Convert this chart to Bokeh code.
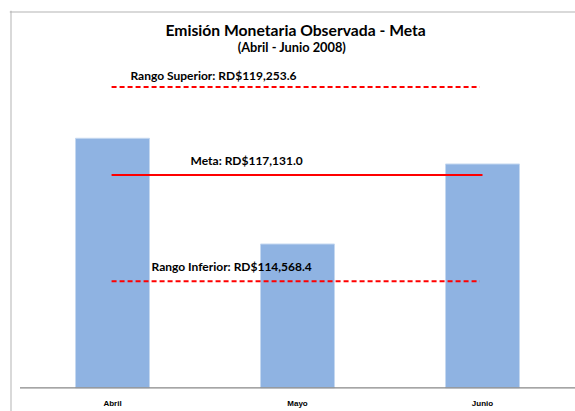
from bokeh.plotting import figure
from bokeh.models import ColumnDataSource, Range1d, Span, Label
from bokeh.core.properties import value
from bokeh.embed import file_html
from bokeh.resources import INLINE

# ---- data ----
months = ["Abril", "Mayo", "Junio"]
emision = [118016.0, 115467.0, 117396.0]
line_names = ["Rango Superior", "Meta", "Rango Inferior"]
line_values = [119253.6, 117131.0, 114568.4]
line_labels = ["Rango Superior: RD$119,253.6", "Meta: RD$117,131.0", "Rango Inferior: RD$114,568.4"]
title_text = "Emisión Monetaria Observada - Meta"
subtitle_text = "(Abril - Junio 2008)"
axis_base = 112000.0

# ---- layout constants (pixels -> data) ----
FIG_W, FIG_H = 575, 411
MB_LEFT, MB_TOP = 9, 10
PX_X = 1.0 / 185.0            # data units per px horizontally
PX_Y = 24.11                  # data units per px vertically
frame_w = FIG_W - MB_LEFT
frame_h = FIG_H - MB_TOP
x_start = -10.5 * PX_X
x_end = x_start + frame_w * PX_X
y_start = axis_base - 23.7 * PX_Y
y_end = y_start + frame_h * PX_Y

p = figure(width=FIG_W, height=FIG_H, output_backend="svg", toolbar_location=None,
           x_axis_location=None, y_axis_location=None,
           x_range=Range1d(x_start, x_end), y_range=Range1d(y_start, y_end),
           min_border_left=MB_LEFT, min_border_top=MB_TOP,
           min_border_right=0, min_border_bottom=0)
p.xgrid.visible = False
p.ygrid.visible = False
p.outline_line_color = None
p.background_fill_color = "white"
p.border_fill_color = "white"

# outer chart border (left and top, rest cut off)
p.add_layout(Span(location=x_start + 1.5 * PX_X, dimension="height",
                  line_color="#b3b3b3", line_width=1))
p.add_layout(Span(location=y_end - 1.5 * PX_Y, dimension="width",
                  line_color="#b3b3b3", line_width=1))

# bars
xs = [i + 0.5 for i in range(len(months))]
bar_src = ColumnDataSource(dict(x=xs, top=emision, month=months))
p.vbar(x="x", top="top", bottom=axis_base, width=0.4, source=bar_src,
       fill_color="#8fb3e2", line_color="#c5d8f0", line_width=1)

# category axis line and labels
p.segment(x0=[0], y0=[axis_base], x1=[len(months)], y1=[axis_base],
          line_color="#878787", line_width=1.2)
p.text(x="x", y=y_start, text="month", source=bar_src,
       text_font=value("Liberation Sans"), text_font_style="bold",
       text_font_size="8px", text_align="center", text_baseline="middle",
       y_offset=-8, text_color="#000000")

# reference lines
line_x0 = [0.495, 0.495, 0.495]
line_x1 = [2.485, 2.5, 2.485]
dashes = ["5 3", "solid", "5 3"]
for i in range(len(line_values)):
    p.segment(x0=[line_x0[i]], y0=[line_values[i]], x1=[line_x1[i]], y1=[line_values[i]],
              line_color="#ff0000", line_width=2, line_dash=dashes[i])

label_x = [0.597, 0.922, 0.711]
label_dy = [-11.0, -14.7, -15.0]
lab_src = ColumnDataSource(dict(x=label_x, y=line_values, text=line_labels, dy=label_dy))
p.text(x="x", y="y", text="text", y_offset="dy", source=lab_src,
       text_font=value("Lato"), text_font_style="bold", text_font_size="12px",
       text_align="left", text_baseline="middle", text_color="#000000")

# titles
mid_x = 1.49
p.add_layout(Label(x=mid_x, y=y_end, y_offset=-19, text=title_text,
                   text_font="Lato", text_font_style="bold", text_font_size="15.7px",
                   text_align="center", text_baseline="middle", text_color="#000000"))
p.add_layout(Label(x=mid_x - 0.02, y=y_end, y_offset=-36, text=subtitle_text,
                   text_font="Lato", text_font_style="bold", text_font_size="12.8px",
                   text_align="center", text_baseline="middle", text_color="#000000"))

open("out.html", "w").write(file_html(p, INLINE))
